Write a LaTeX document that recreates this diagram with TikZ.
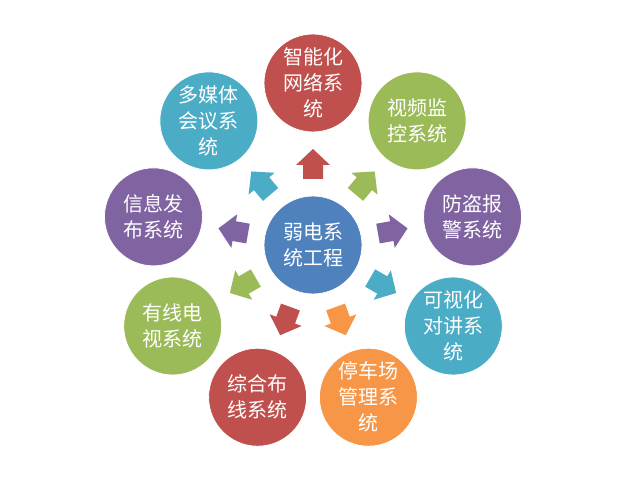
\documentclass[tikz,border=0pt]{standalone}
\usetikzlibrary{calc}
\usepackage{fontspec}
\newfontfamily\cjk{Noto Sans CJK SC}
\definecolor{cred}{HTML}{C0504D}
\definecolor{cgreen}{HTML}{9BBB59}
\definecolor{cpurple}{HTML}{8064A2}
\definecolor{cteal}{HTML}{4BACC6}
\definecolor{corange}{HTML}{F79646}
\definecolor{cblue}{HTML}{4F81BD}
\begin{document}
\begin{tikzpicture}[x=1pt,y=1pt,
  ball/.style={circle, minimum size=98pt, inner sep=0pt, draw=white, line width=0.8pt,
    text=white, align=center, font=\cjk\fontsize{20}{26}\selectfont}]
\fill[white] (0,0) rectangle (626,-478);
\useasboundingbox (0,0) rectangle (626,-478);
\coordinate (c) at (313,-245);
\node[ball, fill=cblue] (hub) at (c) {弱电系\\统工程};
\foreach \a/\col/\txt/\n in {
  90/cred/{智能化\\网络系\\统}/1,
  50/cgreen/{视频监\\控系统}/2,
  10/cpurple/{防盗报\\警系统}/3,
  -30/cteal/{可视化\\对讲系\\统}/4,
  -70/corange/{停车场\\管理系\\统}/5,
  -110/cred/{综合布\\线系统}/6,
  -150/cgreen/{有线电\\视系统}/7,
  170/cpurple/{信息发\\布系统}/8,
  130/cteal/{多媒体\\会议系\\统}/9}{
  \node[ball, fill=\col] (s\n) at ($(c)+(\a:162)$) {\txt};
  \begin{scope}[shift={(c)}, rotate=\a]
    \fill[\col] (66,-10) -- (80,-10) -- (80,-17) -- (96,0) -- (80,17) -- (80,10) -- (66,10) -- cycle;
  \end{scope}
}
\end{tikzpicture}
\end{document}
